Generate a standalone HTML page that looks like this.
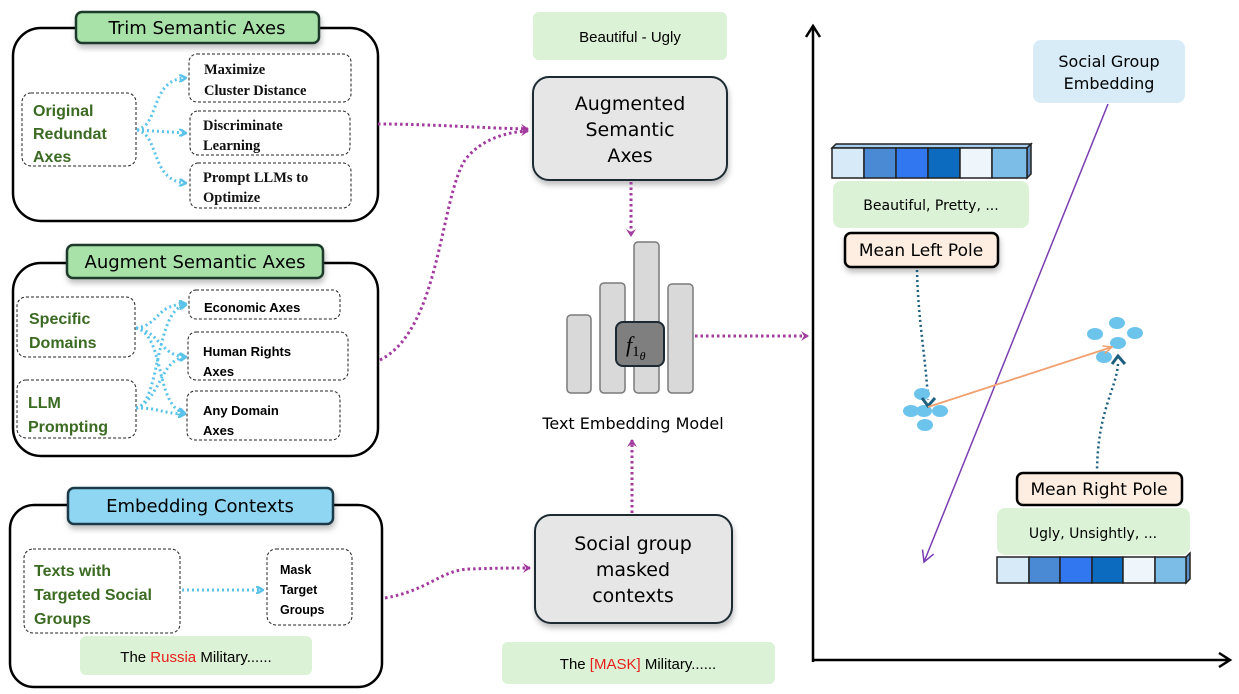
<!DOCTYPE html>
<html><head><meta charset="utf-8"><style>
html,body{margin:0;padding:0;background:#fff;}
svg{display:block;}
.h{font-family:"DejaVu Sans","Liberation Sans",sans-serif;}
.c{font-family:"Liberation Sans",sans-serif;}
.g{font-family:"Liberation Sans",sans-serif;font-weight:bold;fill:#3b6a22;}
.s{font-family:"Liberation Serif",serif;font-weight:bold;fill:#111;}
</style></head><body>
<svg width="1239" height="694" viewBox="0 0 1239 694" xmlns="http://www.w3.org/2000/svg">
<defs>
<marker id="bl" markerWidth="8" markerHeight="8" refX="6" refY="4" orient="auto" markerUnits="userSpaceOnUse"><path d="M0,0 L7,4 L0,8" fill="none" stroke="#5bc3ea" stroke-width="2.5"/></marker>
<marker id="pu" markerWidth="10" markerHeight="10" refX="7" refY="5" orient="auto" markerUnits="userSpaceOnUse"><path d="M0,0 L8,5 L0,10 L3,5z" fill="#a23b9d"/></marker>
<marker id="vi" markerWidth="14" markerHeight="14" refX="12" refY="7" orient="auto" markerUnits="userSpaceOnUse"><path d="M1,1 L12,7 L1,13" fill="none" stroke="#7a3db0" stroke-width="1.5"/></marker>
<marker id="or" markerWidth="10" markerHeight="10" refX="9" refY="5" orient="auto" markerUnits="userSpaceOnUse"><path d="M0,1 L9,5 L0,9" fill="none" stroke="#f0a070" stroke-width="1.5"/></marker>
<marker id="ax" markerWidth="16" markerHeight="16" refX="13" refY="8" orient="auto" markerUnits="userSpaceOnUse"><path d="M2,1 L13,8 L2,15" fill="none" stroke="#000" stroke-width="2.5"/></marker>
<filter id="sh" x="-10%" y="-10%" width="130%" height="140%"><feDropShadow dx="1" dy="4" stdDeviation="3" flood-color="#000" flood-opacity="0.25"/></filter>
</defs>

<!-- Box 1 -->
<rect x="13" y="28" width="365" height="193" rx="28" fill="none" stroke="#000" stroke-width="2.5"/>
<rect x="76" y="12" width="243" height="31" rx="6" fill="#a9e2a9" stroke="#1f3a2a" stroke-width="2.5" filter="url(#sh)"/>
<text x="197" y="34" text-anchor="middle" class="h" font-size="18">Trim Semantic Axes</text>
<rect x="22" y="93" width="114" height="73" rx="9" fill="none" stroke="#222" stroke-dasharray="3,2"/>
<text x="33" y="116" class="g" font-size="16">Original</text>
<text x="33" y="139" class="g" font-size="16">Redundat</text>
<text x="33" y="162" class="g" font-size="16">Axes</text>
<rect x="189" y="54" width="162" height="48" rx="8" fill="none" stroke="#222" stroke-dasharray="3,2"/>
<text x="204" y="74" class="s" font-size="14.5">Maximize</text>
<text x="204" y="95" class="s" font-size="14.5">Cluster Distance</text>
<rect x="190" y="111" width="160" height="44" rx="8" fill="none" stroke="#222" stroke-dasharray="3,2"/>
<text x="203" y="130" class="s" font-size="14.5">Discriminate</text>
<text x="203" y="150" class="s" font-size="14.5">Learning</text>
<rect x="190" y="163" width="161" height="45" rx="8" fill="none" stroke="#222" stroke-dasharray="3,2"/>
<text x="203" y="182" class="s" font-size="14.5">Prompt LLMs to</text>
<text x="203" y="202" class="s" font-size="14.5">Optimize</text>
<g fill="none" stroke="#5bc3ea" stroke-width="3" stroke-dasharray="2,3">
<path d="M137,130 C160,125 150,80 185,78" marker-end="url(#bl)"/>
<path d="M137,130 L185,133" marker-end="url(#bl)"/>
<path d="M137,130 C160,135 150,180 185,183" marker-end="url(#bl)"/>
</g>

<!-- Box 2 -->
<rect x="13" y="263" width="365" height="193" rx="28" fill="none" stroke="#000" stroke-width="2.5"/>
<rect x="67" y="245" width="256" height="33" rx="6" fill="#a9e2a9" stroke="#1f3a2a" stroke-width="2.5" filter="url(#sh)"/>
<text x="195" y="268" text-anchor="middle" class="h" font-size="18">Augment Semantic Axes</text>
<rect x="17" y="297" width="118" height="60" rx="9" fill="none" stroke="#222" stroke-dasharray="3,2"/>
<text x="29" y="324" class="g" font-size="16">Specific</text>
<text x="29" y="348" class="g" font-size="16">Domains</text>
<rect x="17" y="380" width="119" height="58" rx="9" fill="none" stroke="#222" stroke-dasharray="3,2"/>
<text x="28" y="408" class="g" font-size="16">LLM</text>
<text x="28" y="432" class="g" font-size="16">Prompting</text>
<rect x="189" y="290" width="151" height="29" rx="7" fill="none" stroke="#222" stroke-dasharray="3,2"/>
<text x="204" y="312" class="c" font-weight="bold" font-size="13">Economic Axes</text>
<rect x="188" y="332" width="160" height="48" rx="8" fill="none" stroke="#222" stroke-dasharray="3,2"/>
<text x="203" y="356" class="c" font-weight="bold" font-size="13">Human Rights</text>
<text x="203" y="376" class="c" font-weight="bold" font-size="13">Axes</text>
<rect x="187" y="391" width="153" height="49" rx="8" fill="none" stroke="#222" stroke-dasharray="3,2"/>
<text x="203" y="415" class="c" font-weight="bold" font-size="13">Any Domain</text>
<text x="203" y="435" class="c" font-weight="bold" font-size="13">Axes</text>
<g fill="none" stroke="#5bc3ea" stroke-width="3" stroke-dasharray="2,3">
<path d="M136,328 C160,325 155,305 185,304" marker-end="url(#bl)"/>
<path d="M136,328 C160,332 160,355 185,357" marker-end="url(#bl)"/>
<path d="M136,328 C165,335 155,405 184,413" marker-end="url(#bl)"/>
<path d="M136,408 C160,405 155,310 185,305" marker-end="url(#bl)"/>
<path d="M136,408 C160,400 160,360 185,357" marker-end="url(#bl)"/>
<path d="M136,408 C160,408 160,413 184,414" marker-end="url(#bl)"/>
</g>

<!-- Box 3 -->
<rect x="10" y="505" width="372" height="182" rx="24" fill="none" stroke="#000" stroke-width="2.5"/>
<rect x="68" y="488" width="265" height="36" rx="6" fill="#8fd6f2" stroke="#1f3a4a" stroke-width="2.5" filter="url(#sh)"/>
<text x="200" y="512" text-anchor="middle" class="h" font-size="18">Embedding Contexts</text>
<rect x="24" y="549" width="156" height="84" rx="9" fill="none" stroke="#222" stroke-dasharray="3,2"/>
<text x="34" y="576" class="g" font-size="16">Texts with</text>
<text x="34" y="600" class="g" font-size="16">Targeted Social</text>
<text x="34" y="624" class="g" font-size="16">Groups</text>
<rect x="267" y="549" width="85" height="76" rx="9" fill="none" stroke="#222" stroke-dasharray="3,2"/>
<text x="280" y="574" class="c" font-weight="bold" font-size="12.5">Mask</text>
<text x="280" y="594" class="c" font-weight="bold" font-size="12.5">Target</text>
<text x="280" y="614" class="c" font-weight="bold" font-size="12.5">Groups</text>
<path d="M182,590 L262,590" fill="none" stroke="#5bc3ea" stroke-width="3" stroke-dasharray="2,3" marker-end="url(#bl)"/>
<rect x="80" y="636" width="232" height="39" rx="6" fill="#dcf2d6"/>
<text x="196" y="662" text-anchor="middle" class="c" font-size="15">The <tspan fill="#e8201c">Russia</tspan> Military......</text>

<!-- Middle -->
<rect x="533" y="12" width="194" height="48" rx="6" fill="#dcf2d6"/>
<text x="630" y="42" text-anchor="middle" class="c" font-size="15">Beautiful - Ugly</text>
<rect x="533" y="77" width="194" height="103" rx="16" fill="#e6e6e6" stroke="#1d2a33" stroke-width="2" filter="url(#sh)"/>
<text x="630" y="110" text-anchor="middle" class="h" font-size="19">Augmented</text>
<text x="630" y="136" text-anchor="middle" class="h" font-size="19">Semantic</text>
<text x="630" y="162" text-anchor="middle" class="h" font-size="19">Axes</text>
<g fill="#d9d9d9" stroke="#7a7a7a" stroke-width="1.5">
<rect x="567" y="315" width="24" height="78" rx="4"/>
<rect x="600" y="283" width="25" height="110" rx="4"/>
<rect x="634" y="242" width="25" height="151" rx="4"/>
<rect x="668" y="284" width="25" height="109" rx="4"/>
</g>
<rect x="616" y="322" width="48" height="44" rx="7" fill="#7f7f7f" stroke="#1d2a33" stroke-width="2"/>
<text x="626" y="352" font-family="Liberation Serif,serif" font-style="italic" font-size="22">f<tspan font-size="15" dy="4" font-style="normal">1</tspan><tspan font-size="12" dy="4">θ</tspan></text>
<text x="633" y="429" text-anchor="middle" class="h" font-size="16">Text Embedding Model</text>
<rect x="535" y="515" width="197" height="108" rx="16" fill="#e6e6e6" stroke="#1d2a33" stroke-width="2" filter="url(#sh)"/>
<text x="633" y="550" text-anchor="middle" class="h" font-size="19">Social group</text>
<text x="633" y="576" text-anchor="middle" class="h" font-size="19">masked</text>
<text x="633" y="602" text-anchor="middle" class="h" font-size="19">contexts</text>
<rect x="502" y="642" width="273" height="42" rx="6" fill="#dcf2d6"/>
<text x="638" y="669" text-anchor="middle" class="c" font-size="15">The <tspan fill="#e8201c">[MASK]</tspan> Military......</text>

<!-- purple connectors -->
<g fill="none" stroke="#a23b9d" stroke-width="3" stroke-dasharray="2.5,3">
<path d="M378,124 C430,124 480,128 528,129" marker-end="url(#pu)"/>
<path d="M380,360 C440,330 440,200 465,160 C480,140 505,132 528,131" marker-end="url(#pu)"/>
<path d="M631,182 L631,236" marker-end="url(#pu)"/>
<path d="M695,336 L808,336" marker-end="url(#pu)"/>
<path d="M632,513 L632,440" marker-end="url(#pu)"/>
<path d="M385,598 C430,590 440,570 470,569 C500,568 510,568 530,568" marker-end="url(#pu)"/>
</g>

<!-- Right plot -->
<path d="M813,662 L813,26" stroke="#000" stroke-width="2.5" marker-end="url(#ax)"/>
<path d="M812,660 L1230,660" stroke="#000" stroke-width="2.5" marker-end="url(#ax)"/>
<rect x="1033" y="40" width="152" height="63" rx="8" fill="#d8ecf8"/>
<text x="1109" y="67" text-anchor="middle" class="h" font-size="16">Social Group</text>
<text x="1109" y="89" text-anchor="middle" class="h" font-size="16">Embedding</text>
<path d="M1108,104 L924,562" stroke="#7a3db0" stroke-width="1.5" fill="none" marker-end="url(#vi)"/>

<!-- top cubes -->
<g stroke="#222" stroke-width="1.5">
<path d="M832,148 L836,144 L1031,144 L1027,148z" fill="#a9cff0"/>
<path d="M1027,148 L1031,144 L1031,174 L1027,178z" fill="#5d8fc6"/>
<rect x="832" y="148" width="32" height="30" fill="#d6eaf8"/>
<rect x="864" y="148" width="32" height="30" fill="#4a8ad4"/>
<rect x="896" y="148" width="32" height="30" fill="#3077f0"/>
<rect x="928" y="148" width="32" height="30" fill="#0c6bbf"/>
<rect x="960" y="148" width="32" height="30" fill="#eef5fb"/>
<rect x="992" y="148" width="35" height="30" fill="#7cbde8"/>
</g>
<rect x="833" y="181" width="196" height="47" rx="8" fill="#dcf2d6"/>
<text x="931" y="210" text-anchor="middle" class="h" font-size="14">Beautiful, Pretty, ...</text>
<rect x="845" y="233" width="153" height="34" rx="6" fill="#fdeee1" stroke="#000" stroke-width="2.5" filter="url(#sh)"/>
<text x="921" y="256" text-anchor="middle" class="h" font-size="17">Mean Left Pole</text>
<path d="M917,270 C918,320 926,360 928,400" fill="none" stroke="#1e5f7f" stroke-width="2.5" stroke-dasharray="2,3"/>

<g fill="#6cc4ec">
<ellipse cx="922" cy="394" rx="8" ry="6"/>
<ellipse cx="911" cy="411" rx="8" ry="6"/>
<ellipse cx="924" cy="411" rx="8" ry="6"/>
<ellipse cx="940" cy="411" rx="8" ry="6"/>
<ellipse cx="925" cy="425" rx="8" ry="6"/>
<ellipse cx="1095" cy="334" rx="8" ry="6"/>
<ellipse cx="1117" cy="323" rx="8" ry="6"/>
<ellipse cx="1135" cy="333" rx="8" ry="6"/>
<ellipse cx="1118" cy="343" rx="8" ry="6"/>
<ellipse cx="1104" cy="357" rx="8" ry="6"/>
</g>
<path d="M922,398 L928,406 L935,398" fill="none" stroke="#1e5f7f" stroke-width="3"/>
<path d="M1112,364 L1118,356 L1125,364" fill="none" stroke="#1e5f7f" stroke-width="3"/>
<path d="M928,407 L1112,347" stroke="#f0a070" stroke-width="1.8" fill="none" marker-end="url(#or)"/>
<path d="M1118,364 C1116,390 1098,410 1097,470" fill="none" stroke="#1e5f7f" stroke-width="2.5" stroke-dasharray="2,3"/>

<rect x="1017" y="473" width="165" height="32" rx="6" fill="#fdeee1" stroke="#000" stroke-width="2.5"/>
<text x="1099" y="495" text-anchor="middle" class="h" font-size="17">Mean Right Pole</text>
<rect x="997" y="508" width="193" height="47" rx="8" fill="#dcf2d6"/>
<text x="1093" y="538" text-anchor="middle" class="h" font-size="14">Ugly, Unsightly, ...</text>
<g stroke="#222" stroke-width="1.5">
<path d="M1186,557 L1190,553 L1190,579 L1186,583z" fill="#5d8fc6"/>
<rect x="997" y="557" width="32" height="26" fill="#d6eaf8"/>
<rect x="1029" y="557" width="31" height="26" fill="#4a8ad4"/>
<rect x="1060" y="557" width="32" height="26" fill="#3077f0"/>
<rect x="1092" y="557" width="31" height="26" fill="#0c6bbf"/>
<rect x="1123" y="557" width="32" height="26" fill="#eef5fb"/>
<rect x="1155" y="557" width="31" height="26" fill="#7cbde8"/>
</g>
</svg>
</body></html>
